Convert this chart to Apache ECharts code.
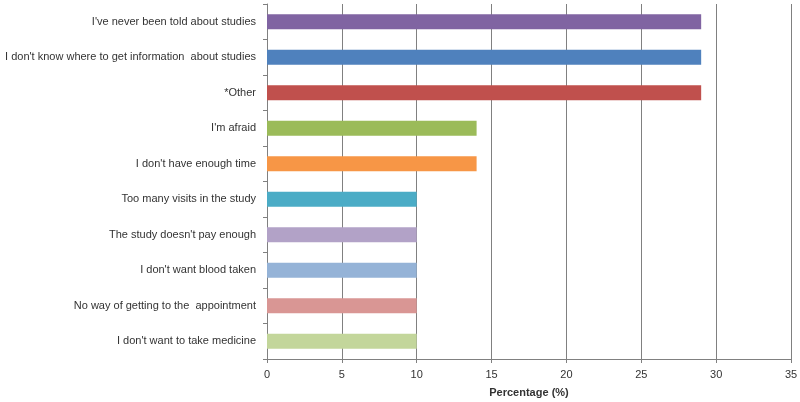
<!DOCTYPE html>
<html><head><meta charset="utf-8">
<script src="https://cdn.jsdelivr.net/npm/echarts@6/dist/echarts.min.js"></script>
<style>html,body{margin:0;padding:0;background:#fff}#c{width:800px;height:402px}</style>
</head><body><div id="c"></div>
<script>
const categories = [
  "I've never been told about studies",
  "I don't know where to get information  about studies",
  "*Other",
  "I'm afraid",
  "I don't have enough time",
  "Too many visits in the study",
  "The study doesn't pay enough",
  "I don't want blood taken",
  "No way of getting to the  appointment",
  "I don't want to take medicine"
];
const values = [29, 29, 29, 14, 14, 10, 10, 10, 10, 10];
const barColors = ["#8064A2","#4F81BD","#C0504D","#9BBB59","#F79646","#4BACC6","#B2A2C7","#95B3D7","#D99694","#C3D69B"];
const xTicks = {min: 0, max: 35, interval: 5};
const xTitle = "Percentage (%)";

const chart = echarts.init(document.getElementById('c'), null, {renderer: 'canvas'});
chart.setOption({
  animation: false,
  grid: {left: 267, right: 9, top: 4, bottom: 43, containLabel: false, outerBoundsMode: 'none'},
  xAxis: {
    type: 'value', min: xTicks.min, max: xTicks.max, interval: xTicks.interval,
    name: xTitle, nameLocation: 'middle', nameGap: 28,
    nameTextStyle: {fontFamily: 'Liberation Sans', fontSize: 11, fontWeight: 'bold', color: '#333'},
    axisLine: {show: true, lineStyle: {color: '#808080', width: 1}},
    axisTick: {show: true, length: 4, lineStyle: {color: '#808080'}},
    axisLabel: {fontFamily: 'Liberation Sans', fontSize: 11, color: '#333', margin: 10},
    splitLine: {show: true, lineStyle: {color: '#808080', width: 1}}
  },
  yAxis: {
    type: 'category', data: categories, inverse: true,
    axisLine: {show: true, lineStyle: {color: '#808080', width: 1}},
    axisTick: {show: true, length: 4, lineStyle: {color: '#808080'}},
    axisLabel: {fontFamily: 'Liberation Sans', fontSize: 11, color: '#333', margin: 11}
  },
  series: [{
    type: 'bar', data: values.map((v, i) => ({value: v, itemStyle: {color: barColors[i]}})),
    barWidth: 15
  }]
});
</script></body></html>
